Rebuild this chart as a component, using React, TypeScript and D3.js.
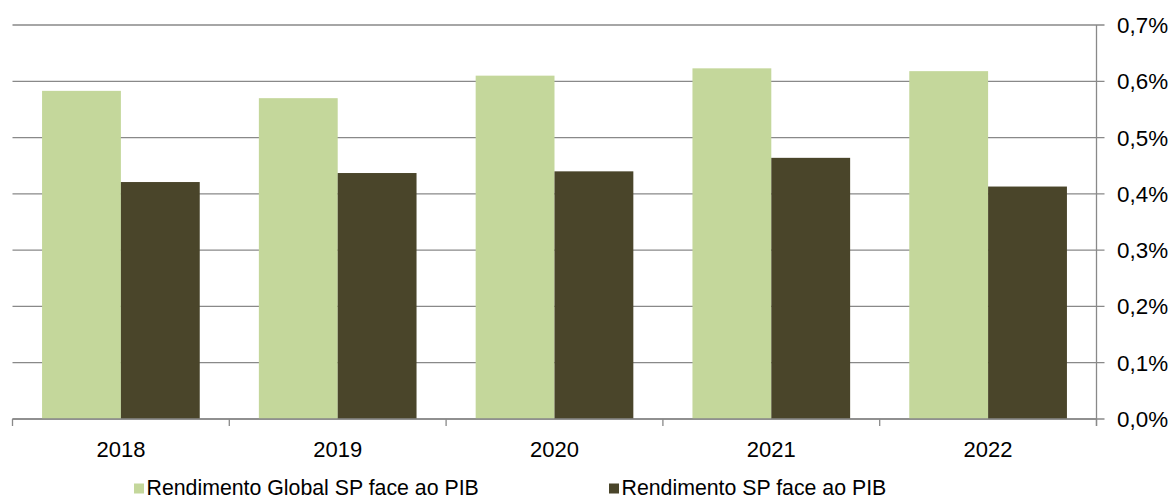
import React from "react";
import * as d3 from "d3";

// Years shown on the category axis
const years: string[] = ["2018", "2019", "2020", "2021", "2022"];

// Series names (legend order)
const seriesNames: string[] = [
  "Rendimento Global SP face ao PIB",
  "Rendimento SP face ao PIB",
];

// Values as a share of GDP (fractions)
const rendimentoGlobal: number[] = [0.00583, 0.0057, 0.0061, 0.00623, 0.00618];
const rendimentoSP: number[] = [0.00421, 0.00437, 0.0044, 0.00464, 0.00413];

// Right-axis tick values
const yTicks: number[] = [0, 0.001, 0.002, 0.003, 0.004, 0.005, 0.006, 0.007];

const seriesColors: string[] = ["#C4D79B", "#4A452A"];

const W = 1174;
const H = 499;
const FONT = "'Liberation Sans', Arial, sans-serif";

export default function App() {
  const left = 12.5;
  const right = 1096.5;
  const top = 25;
  const bottom = 419;

  const x0 = d3.scaleBand<string>().domain(years).range([left, right]).paddingInner(0).paddingOuter(0);
  const x1 = d3
    .scaleBand<string>()
    .domain(seriesNames)
    .range([0, x0.bandwidth()])
    .paddingInner(0)
    .paddingOuter(0.375);
  const y = d3.scaleLinear().domain([0, 0.007]).range([bottom, top]);

  const fmt = (v: number) => (v * 100).toFixed(1).replace(".", ",") + "%";
  const seriesData = [rendimentoGlobal, rendimentoSP];
  const axisColor = "#898989";

  const boundaries = years.map((yr) => x0(yr) as number).concat([right]);
  const legendX = [134, 609];

  return (
    <svg
      width={W}
      height={H}
      style={{ position: "absolute", left: 0, top: 0, background: "#fff" }}
    >
      {/* horizontal gridlines, extending past the right axis as ticks */}
      {yTicks.map((t) => (
        <line
          key={"g" + t}
          x1={left}
          x2={right + 8}
          y1={y(t)}
          y2={y(t)}
          stroke={axisColor}
          strokeWidth={1.3}
        />
      ))}

      {/* bars */}
      {seriesData.map((vals, si) =>
        years.map((yr, i) => {
          const bx = (x0(yr) as number) + (x1(seriesNames[si]) as number);
          const by = y(vals[i]);
          return (
            <rect
              key={si + "-" + yr}
              x={bx}
              y={by}
              width={x1.bandwidth()}
              height={bottom - by}
              fill={seriesColors[si]}
            />
          );
        })
      )}

      {/* category axis baseline and boundary ticks */}
      <line x1={left} x2={right} y1={bottom} y2={bottom} stroke={axisColor} strokeWidth={1.3} />
      {boundaries.map((bx, i) => (
        <line key={"t" + i} x1={bx} x2={bx} y1={bottom} y2={bottom + 7} stroke={axisColor} strokeWidth={1.3} />
      ))}

      {/* right value axis */}
      <line x1={right} x2={right} y1={top} y2={bottom + 7} stroke={axisColor} strokeWidth={1.3} />
      {yTicks.map((t) => (
        <text
          key={"l" + t}
          x={1117}
          y={y(t)}
          dy="0.36em"
          fontFamily={FONT}
          fontSize={22.4}
          fill="#000"
        >
          {fmt(t)}
        </text>
      ))}

      {/* category labels */}
      {years.map((yr) => (
        <text
          key={"c" + yr}
          x={(x0(yr) as number) + x0.bandwidth() / 2}
          y={456.5}
          textAnchor="middle"
          fontFamily={FONT}
          fontSize={22}
          fill="#000"
        >
          {yr}
        </text>
      ))}

      {/* legend */}
      {seriesNames.map((name, i) => (
        <g key={"lg" + i}>
          <rect x={legendX[i]} y={483.5} width={10} height={10} fill={seriesColors[i]} />
          <text x={legendX[i] + 12.5} y={494.5} fontFamily={FONT} fontSize={21.3} fill="#000">
            {name}
          </text>
        </g>
      ))}
    </svg>
  );
}
